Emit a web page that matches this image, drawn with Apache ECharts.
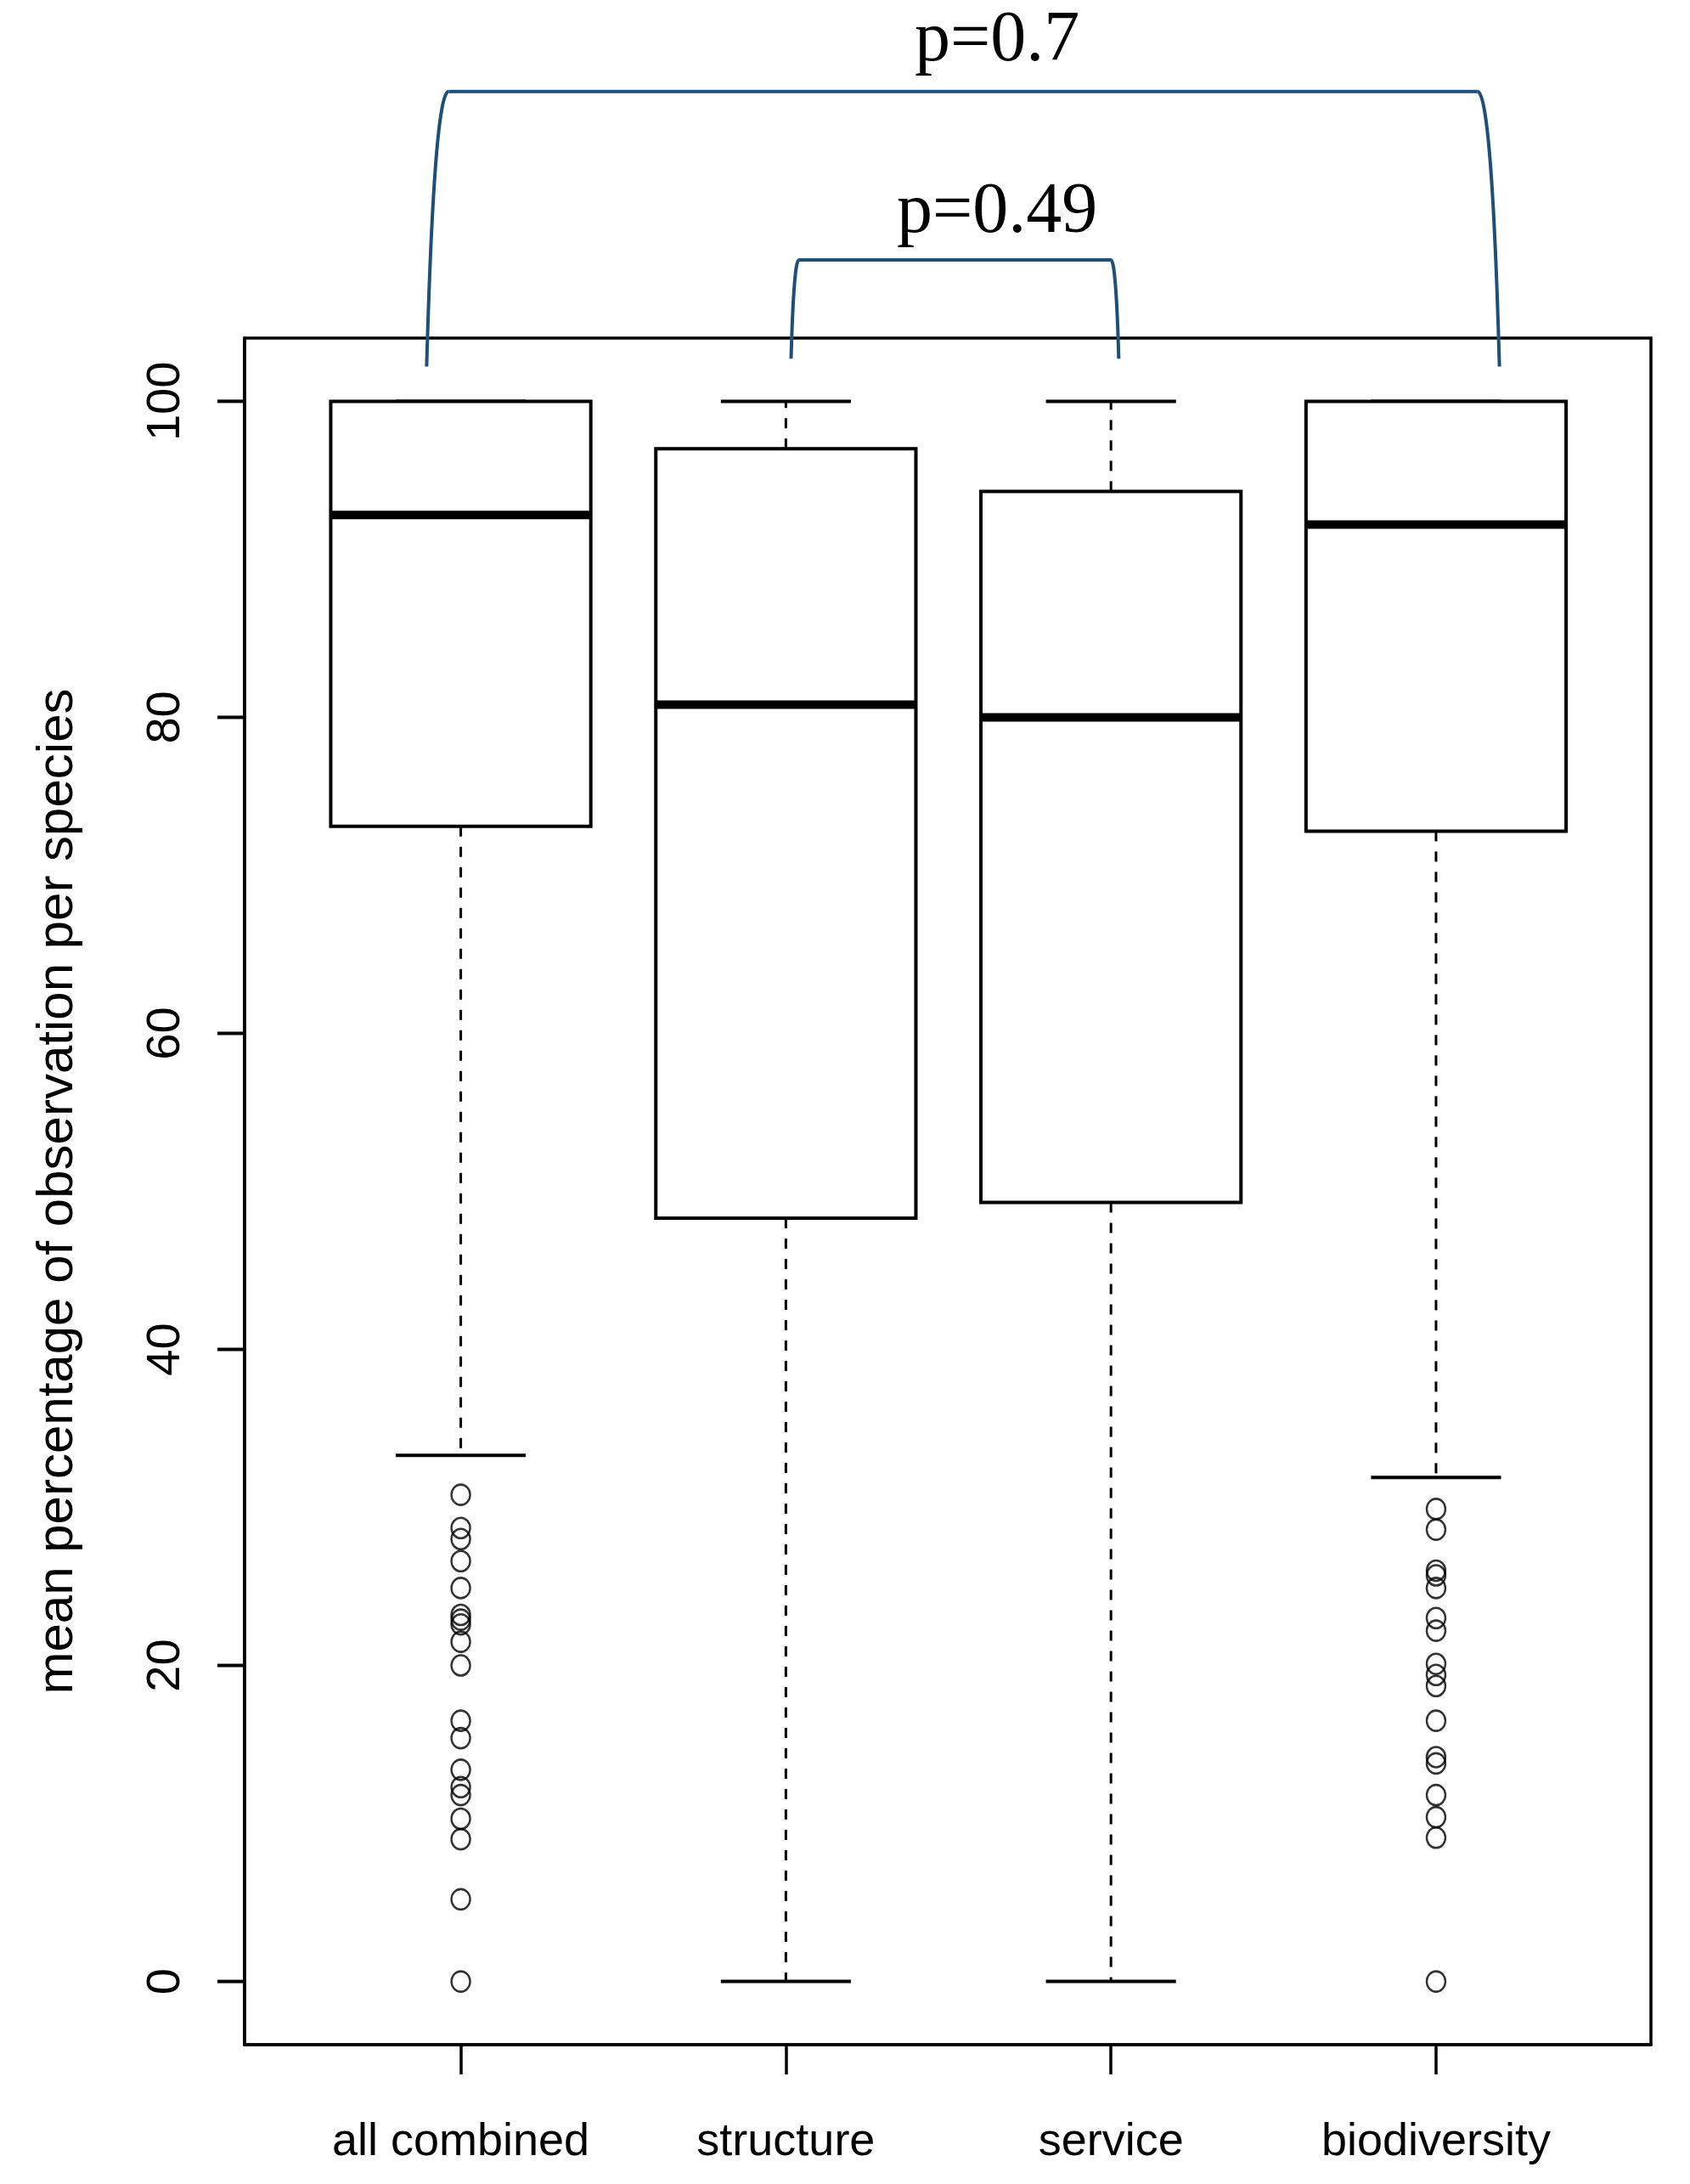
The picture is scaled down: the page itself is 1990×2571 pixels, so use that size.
<!DOCTYPE html>
<html>
<head>
<meta charset="utf-8">
<title>mean percentage of observation per species</title>
<script src="https://cdn.jsdelivr.net/npm/echarts@6/dist/echarts.min.js"></script>
<style>
html, body { margin: 0; padding: 0; background: #fff; }
#main { width: 1990px; height: 2571px; }
</style>
</head>
<body>
<div id="main"></div>
<script>
// groups along the x axis
var groups = ['all combined', 'structure', 'service', 'biodiversity'];

// box summaries
var lowerWhisker = [33.3, 0, 0, 31.9];
var q1 = [73.1, 48.3, 49.3, 72.8];
var median = [92.8, 80.8, 80.0, 92.2];
var q3 = [100, 97.0, 94.3, 100];
var upperWhisker = [100, 100, 100, 100];

// outliers (only two groups have them)
var outliersAll = [30.8, 28.7, 28.0, 26.6, 24.9, 23.2, 22.9, 22.6, 21.5, 20.0, 16.5, 15.4, 13.4, 12.3, 11.8, 10.3, 9.0, 5.2, 0];
var outliersBio = [29.9, 28.6, 26.0, 25.7, 24.9, 23.0, 22.2, 20.1, 19.4, 18.7, 16.5, 14.2, 13.8, 11.8, 10.4, 9.1, 0];

var yTicks = [0, 20, 40, 60, 80, 100];
var xTicks = [1, 2, 3, 4];

// significance brackets, in axis units
var bracketFrom = [0.895, 2.016];
var bracketTo = [4.195, 3.024];
var bracketTop = [119.6, 108.95];
var bracketFoot = [102.2, 102.7];
var bracketText = ['p=0.7', 'p=0.49'];
var bracketTextX = [2.65, 2.65];
var bracketTextY = [120.5, 109.65];

var boxData = [];
for (var i = 0; i < groups.length; i++) {
    boxData.push([i + 1, lowerWhisker[i], q1[i], median[i], q3[i], upperWhisker[i]]);
}
var outData = [];
outliersAll.forEach(function (v) { outData.push([1, v]); });
outliersBio.forEach(function (v) { outData.push([4, v]); });
var tickData = yTicks.map(function (v) { return [0.335, v]; });

function renderBox(params, api) {
    var x = api.value(0);
    var pLow = api.coord([x, api.value(1)]);
    var pQ1 = api.coord([x, api.value(2)]);
    var pMed = api.coord([x, api.value(3)]);
    var pQ3 = api.coord([x, api.value(4)]);
    var pHigh = api.coord([x, api.value(5)]);
    var w = api.size([0.8, 0])[0];
    var cx = pMed[0];
    var dashed = { stroke: '#000', lineWidth: 3, lineDash: [12, 12], lineCap: 'butt' };
    var solid = { stroke: '#000', lineWidth: 4 };
    return {
        type: 'group',
        children: [
            { type: 'line', shape: { x1: cx, y1: pQ3[1], x2: cx, y2: pHigh[1] }, style: dashed },
            { type: 'line', shape: { x1: cx, y1: pQ1[1], x2: cx, y2: pLow[1] }, style: dashed },
            { type: 'line', shape: { x1: cx - w / 4, y1: pHigh[1], x2: cx + w / 4, y2: pHigh[1] }, style: solid },
            { type: 'line', shape: { x1: cx - w / 4, y1: pLow[1], x2: cx + w / 4, y2: pLow[1] }, style: solid },
            { type: 'rect', shape: { x: cx - w / 2, y: pQ3[1], width: w, height: pQ1[1] - pQ3[1] },
              style: { fill: '#fff', stroke: '#000', lineWidth: 4 } },
            { type: 'line', shape: { x1: cx - w / 2, y1: pMed[1], x2: cx + w / 2, y2: pMed[1] },
              style: { stroke: '#000', lineWidth: 10, lineCap: 'butt' } }
        ]
    };
}

// y ticks drawn outward from the left frame
function renderTick(params, api) {
    var p = api.coord([api.value(0), api.value(1)]);
    return {
        type: 'rect',
        shape: { x: p[0] - 32, y: p[1] - 2, width: 32, height: 4 },
        style: { fill: '#000' }
    };
}

var chart = echarts.init(document.getElementById('main'));
var option = {
    animation: false,
    backgroundColor: '#fff',
    grid: {
        left: 288, right: 46, top: 398, bottom: 164,
        show: true, borderColor: '#000', borderWidth: 3.5, backgroundColor: 'transparent'
    },
    xAxis: {
        type: 'value',
        min: 0.335,
        max: 4.661,
        axisLine: { show: true, onZero: false, lineStyle: { color: '#000', width: 3.5 } },
        splitLine: { show: false },
        axisTick: { show: true, customValues: xTicks, length: 35, lineStyle: { color: '#000', width: 3.5 } },
        axisLabel: {
            customValues: xTicks,
            formatter: function (v) { return groups[Math.round(v) - 1]; },
            fontSize: 54,
            fontFamily: '"Liberation Sans", Arial, sans-serif',
            color: '#000',
            margin: 88
        }
    },
    yAxis: {
        type: 'value',
        min: -4,
        max: 104,
        axisLine: { show: true, onZero: false, lineStyle: { color: '#000', width: 3.5 } },
        splitLine: { show: false },
        axisTick: { show: false },
        axisLabel: {
            customValues: yTicks,
            rotate: 90,
            fontSize: 56,
            fontFamily: '"Liberation Sans", Arial, sans-serif',
            color: '#000',
            margin: 64
        },
        name: 'mean percentage of observation per species',
        nameLocation: 'middle',
        nameGap: 190,
        nameRotate: 90,
        nameTextStyle: {
            fontSize: 60,
            fontFamily: '"Liberation Sans", Arial, sans-serif',
            color: '#000'
        }
    },
    series: [
        {
            type: 'custom',
            renderItem: renderBox,
            data: boxData,
            encode: { x: 0, y: [1, 2, 3, 4, 5] },
            silent: true
        },
        {
            type: 'custom',
            renderItem: renderTick,
            data: tickData,
            encode: { x: 0, y: 1 },
            clip: false,
            silent: true,
            z: 10
        },
        {
            type: 'scatter',
            data: outData,
            symbol: 'circle',
            symbolSize: [22, 24],
            itemStyle: { color: 'rgba(0,0,0,0)', borderColor: '#000', borderWidth: 2.5 },
            silent: true,
            z: 3
        }
    ]
};
chart.setOption(option);

// brackets with p-values above the plot, placed through the axes
function buildBrackets() {
    var items = [];
    var blue = '#1f4e79';
    for (var b = 0; b < bracketText.length; b++) {
        var pl = chart.convertToPixel({ gridIndex: 0 }, [bracketFrom[b], bracketFoot[b]]);
        var pr = chart.convertToPixel({ gridIndex: 0 }, [bracketTo[b], bracketFoot[b]]);
        var yTop = chart.convertToPixel({ gridIndex: 0 }, [bracketFrom[b], bracketTop[b]])[1];
        var d = 0.08 * (pl[1] - yTop);
        items.push({
            type: 'bezierCurve',
            shape: { x1: pl[0], y1: pl[1], x2: pl[0] + d, y2: yTop, cpx1: pl[0] + 0.35 * d, cpy1: yTop },
            style: { stroke: blue, lineWidth: 4, fill: null }
        });
        items.push({
            type: 'line',
            shape: { x1: pl[0] + d, y1: yTop, x2: pr[0] - d, y2: yTop },
            style: { stroke: blue, lineWidth: 4 }
        });
        items.push({
            type: 'bezierCurve',
            shape: { x1: pr[0], y1: pr[1], x2: pr[0] - d, y2: yTop, cpx1: pr[0] - 0.35 * d, cpy1: yTop },
            style: { stroke: blue, lineWidth: 4, fill: null }
        });
        var tp = chart.convertToPixel({ gridIndex: 0 }, [bracketTextX[b], bracketTextY[b]]);
        items.push({
            type: 'text',
            x: tp[0],
            y: tp[1],
            style: {
                text: bracketText[b],
                fontSize: 84,
                fontFamily: '"Liberation Serif", "Times New Roman", serif',
                fill: '#000',
                align: 'center',
                verticalAlign: 'bottom'
            }
        });
    }
    return items;
}
chart.setOption({ graphic: buildBrackets() });
</script>
</body>
</html>
